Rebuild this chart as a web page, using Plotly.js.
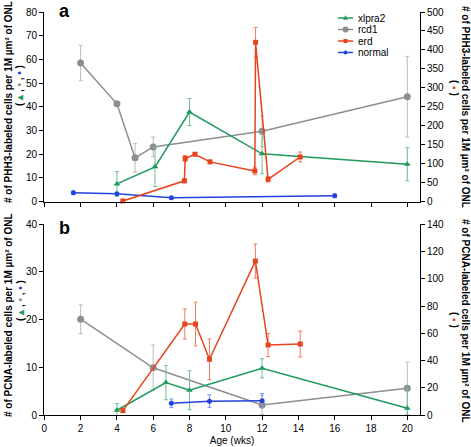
<!DOCTYPE html>
<html>
<head>
<meta charset="utf-8">
<script src="https://cdn.plot.ly/plotly-3.0.1.min.js"></script>
<style>html,body{margin:0;padding:0;background:#fff;}#chart{width:471px;height:447px;}</style>
</head>
<body>
<div id="chart"></div>
<script>
// ---------- DATA ----------
const seriesNames = ["xlpra2", "rcd1", "erd", "normal"];
const xTicks = [0, 2, 4, 6, 8, 10, 12, 14, 16, 18, 20];

// Panel a: PHH3
const phh3_xlpra2_x = [4, 6.1, 8, 12, 20];
const phh3_xlpra2_y = [7.5, 14.7, 37.8, 20.2, 15.8];
const phh3_xlpra2_err = [5.2, 8.3, 5.7, 8.4, 7];

const phh3_rcd1_x = [2, 4, 5, 6, 12, 20];
const phh3_rcd1_y = [58.5, 41.3, 18.5, 23.1, 29.7, 44.3];
const phh3_rcd1_err = [7.5, 1, 6, 4.2, 6.5, 17];

const phh3_erd_x = [4.33, 7.72, 7.76, 8.3, 9.13, 11.6, 11.64, 12.33, 14.1];
const phh3_erd_y = [2, 55, 114, 125, 105, 81, 420, 59, 118];
const phh3_erd_err = [1, 5, 8, 4, 4, 10, 39, 7, 13];

const phh3_normal_x = [1.6, 4.0, 7.0, 16.0];
const phh3_normal_y = [3.8, 3.3, 1.7, 2.5];
const phh3_normal_err = [0.8, 0.6, 0.4, 0.8];

// Panel b: PCNA
const pcna_xlpra2_x = [4, 6.7, 8, 12, 20];
const pcna_xlpra2_y = [1.0, 6.8, 5.2, 9.8, 1.4];
const pcna_xlpra2_err = [1.4, 3.6, 4.1, 2, 4.2];

const pcna_rcd1_x = [2, 6, 12, 20];
const pcna_rcd1_y = [20.1, 9.9, 2.1, 5.6];
const pcna_rcd1_err = [3, 4.8, 2, 5.5];

const pcna_erd_x = [4.33, 7.74, 8.33, 9.1, 11.63, 12.33, 14.1];
const pcna_erd_y = [3.2, 66.8, 66.8, 40.9, 113, 51.4, 52.1];
const pcna_erd_err = [1, 11, 16, 15, 12.5, 8.5, 9.5];

const pcna_normal_x = [7.0, 9.1, 12];
const pcna_normal_y = [2.45, 2.9, 3.0];
const pcna_normal_err = [0.9, 1.3, 1.5];

// ---------- STYLE ----------
const FONT = "Liberation Sans, Arial, Helvetica, sans-serif";
const sty = {
  xlpra2: {c: "#1f9a5c", e: "#6cc193", sym: "triangle-up", size: 6},
  rcd1:   {c: "#8e8e8e", e: "#bcbcbc", sym: "circle", size: 7},
  erd:    {c: "#e8431f", e: "#ef7b5e", sym: "square", size: 5},
  normal: {c: "#2244dd", e: "#7b93ee", sym: "circle", size: 5}
};

function tr(name, x, y, err, xa, ya) {
  const s = sty[name];
  return {
    type: "scatter", mode: "lines+markers", name: name, x: x, y: y,
    xaxis: xa, yaxis: ya, showlegend: false, cliponaxis: false,
    line: {color: s.c, width: 1.5},
    marker: {color: s.c, symbol: s.sym, size: s.size},
    error_y: {type: "data", array: err, visible: true, color: s.e, thickness: 1, width: 2}
  };
}

const data = [
  tr("rcd1", phh3_rcd1_x, phh3_rcd1_y, phh3_rcd1_err, "x2", "y3"),
  tr("xlpra2", phh3_xlpra2_x, phh3_xlpra2_y, phh3_xlpra2_err, "x2", "y3"),
  tr("normal", phh3_normal_x, phh3_normal_y, phh3_normal_err, "x2", "y3"),
  tr("erd", phh3_erd_x, phh3_erd_y, phh3_erd_err, "x2", "y4"),
  tr("rcd1", pcna_rcd1_x, pcna_rcd1_y, pcna_rcd1_err, "x", "y"),
  tr("xlpra2", pcna_xlpra2_x, pcna_xlpra2_y, pcna_xlpra2_err, "x", "y"),
  tr("normal", pcna_normal_x, pcna_normal_y, pcna_normal_err, "x", "y"),
  tr("erd", pcna_erd_x, pcna_erd_y, pcna_erd_err, "x", "y2")
];

// ---------- LAYOUT ----------
const W = 471, H = 447, L = 44, R = 51, T = 12, B = 32;
const pw = W - L - R, ph = H - T - B;
const px = v => (v - L) / pw;
const py = v => (H - B - v) / ph;

const axBase = {
  showline: true, linecolor: "#000", linewidth: 1, ticks: "outside", ticklen: 4,
  tickwidth: 1, tickcolor: "#000", showgrid: false, zeroline: false,
  tickfont: {family: FONT, size: 10, color: "#000"}, fixedrange: true
};
const xr = [-0.017, 20.7];

const titleFont = {family: FONT, size: 10, color: "#000"};
const tPHH3 = "<b># of PHH3-labeled cells per 1M µm² of ONL</b>";
const tPCNA = "<b># of PCNA-labeled cells per 1M µm² of ONL</b>";
const g = (col, ch) => "<span style='color:" + col + "'>" + ch + "</span>";
const leftSub = "<b>( " + g(sty.xlpra2.c, "▴") + " , " + g(sty.rcd1.c, "•") + " , " + g(sty.normal.c, "•") + " )</b>";
const rightSub = "<b>( " + g(sty.erd.c, "▪") + " )</b>";

function ann(text, x, y, angle, font, extra) {
  return Object.assign({
    text: text, xref: "paper", yref: "paper", x: px(x), y: py(y),
    xanchor: "center", yanchor: "middle", showarrow: false, textangle: angle, font: font
  }, extra || {});
}

const annotations = [
  ann(tPHH3, 8, 102, -90, titleFont),
  ann(leftSub, 20, 86, -90, titleFont),
  ann(tPHH3, 466, 107, 90, titleFont),
  ann(rightSub, 455, 88, 90, titleFont),
  ann(tPCNA, 8, 315, -90, titleFont),
  ann(leftSub, 20, 301, -90, titleFont),
  ann(tPCNA, 466, 321, 90, titleFont),
  ann(rightSub, 455, 320, 90, titleFont),
  ann("<b>a</b>", 64, 10.5, 0, {family: FONT, size: 18, color: "#000"}),
  ann("<b>b</b>", 64, 227.5, 0, {family: FONT, size: 18, color: "#000"})
];

// custom compact legend (line + marker shape + label)
const legY = [18, 29.5, 41, 52.5];
const legX0 = 338, legX1 = 353, legXm = 345.5;
const shapes = [];
seriesNames.forEach((n, i) => {
  const c = sty[n].c, yy = legY[i];
  shapes.push({type: "line", xref: "paper", yref: "paper", x0: px(legX0), x1: px(legX1),
    y0: py(yy), y1: py(yy), line: {color: c, width: 1.5}});
  const r = sty[n].size / 2 - 0.5;
  if (sty[n].sym === "triangle-up") {
    shapes.push({type: "path", xref: "paper", yref: "paper", fillcolor: c, line: {width: 0},
      path: "M" + px(legXm - r) + "," + py(yy + r * 0.7) + " L" + px(legXm + r) + "," + py(yy + r * 0.7) +
            " L" + px(legXm) + "," + py(yy - r * 1.1) + " Z"});
  } else if (sty[n].sym === "square") {
    shapes.push({type: "rect", xref: "paper", yref: "paper", fillcolor: c, line: {width: 0},
      x0: px(legXm - r), x1: px(legXm + r), y0: py(yy + r), y1: py(yy - r)});
  } else {
    shapes.push({type: "circle", xref: "paper", yref: "paper", fillcolor: c, line: {width: 0},
      x0: px(legXm - r), x1: px(legXm + r), y0: py(yy + r), y1: py(yy - r)});
  }
  annotations.push(Object.assign(ann(n, 356, yy, 0, {family: FONT, size: 10, color: "#000"}), {xanchor: "left"}));
});

const layout = {
  width: W, height: H, autosize: false,
  margin: {l: L, r: R, t: T, b: B, pad: 0},
  paper_bgcolor: "#fff", plot_bgcolor: "rgba(0,0,0,0)",
  showlegend: false,
  font: {family: FONT, size: 10, color: "#000"},
  xaxis: Object.assign({}, axBase, {range: xr, tickvals: xTicks, anchor: "y", domain: [0, 1],
    title: {text: "Age (wks)", font: {family: FONT, size: 10, color: "#000"}, standoff: 3}}),
  xaxis2: Object.assign({}, axBase, {range: xr, tickvals: xTicks, anchor: "y3", domain: [0, 1], showticklabels: false}),
  yaxis: Object.assign({}, axBase, {range: [0, 40], tickvals: [0, 10, 20, 30, 40], domain: [0, (H - B - 224.3) / ph], anchor: "x"}),
  yaxis2: Object.assign({}, axBase, {range: [0, 140], tickvals: [0, 20, 40, 60, 80, 100, 120, 140], overlaying: "y", side: "right", anchor: "x"}),
  yaxis3: Object.assign({}, axBase, {range: [0, 80], tickvals: [0, 10, 20, 30, 40, 50, 60, 70, 80], domain: [(H - B - 201.7) / ph, (H - B - 11.7) / ph], anchor: "x2"}),
  yaxis4: Object.assign({}, axBase, {range: [0, 500], tickvals: [0, 50, 100, 150, 200, 250, 300, 350, 400, 450, 500], overlaying: "y3", side: "right", anchor: "x2"}),
  annotations: annotations,
  shapes: shapes
};

Plotly.newPlot("chart", data, layout, {staticPlot: true, displayModeBar: false});
</script>
</body>
</html>
